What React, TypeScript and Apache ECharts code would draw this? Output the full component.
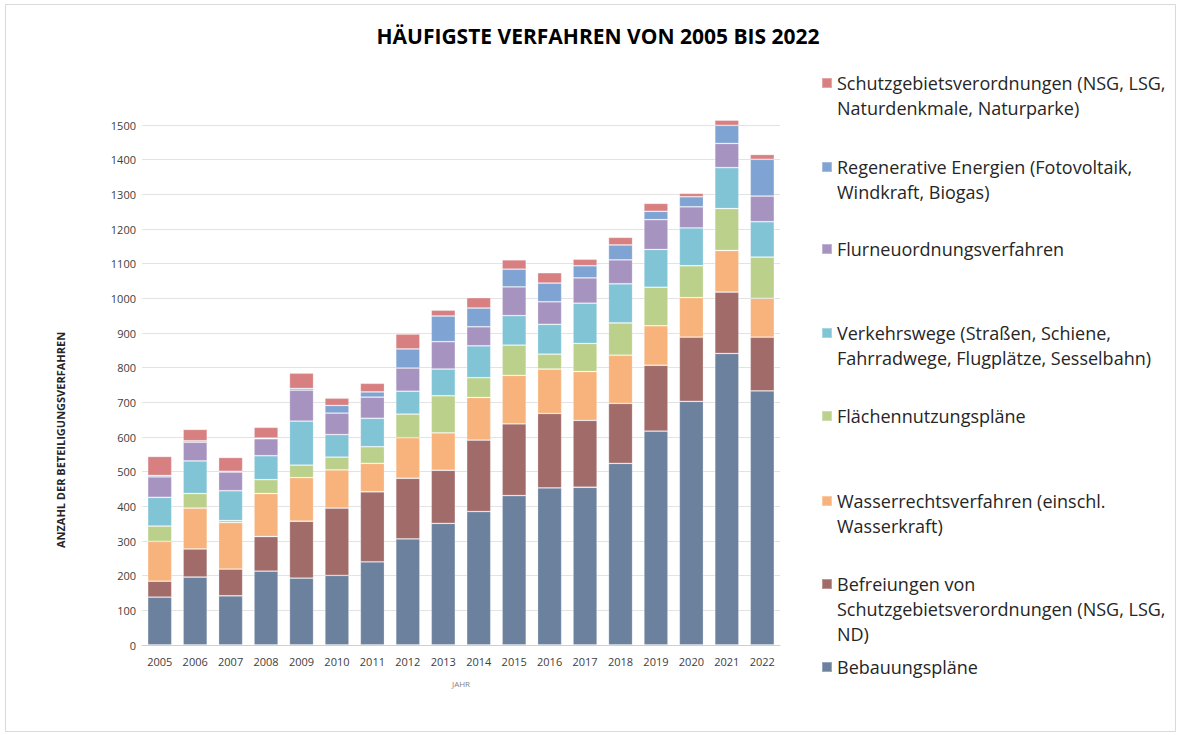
import React, { useEffect, useRef } from "react";
import * as echarts from "echarts";

const years = ["2005","2006","2007","2008","2009","2010","2011","2012","2013","2014","2015","2016","2017","2018","2019","2020","2021","2022"];

const bebauungsplaene = [138,196,142,213,193,201,240,306,351,385,431,453,455,524,617,703,841,733];
const befreiungen = [46,81,77,100,164,194,202,175,153,206,207,215,193,173,190,185,177,155];
const wasserrecht = [115,118,134,124,126,110,82,117,108,123,140,128,141,139,114,114,120,112];
const flaechennutzung = [44,42,6,40,36,37,48,68,107,57,87,43,81,93,111,92,121,119];
const verkehrswege = [83,94,86,69,127,65,82,66,77,92,85,86,116,113,109,109,118,102];
const flurneuordnung = [59,54,54,49,89,62,61,67,79,55,83,65,73,69,86,61,70,74];
const regenerativ = [4,4,2,2,5,22,15,55,74,54,51,54,35,43,24,29,52,106];
const schutzgebiete = [55,33,40,31,44,21,25,43,17,30,27,30,19,22,23,10,15,14];

const yTicks = { min: 0, max: 1500, interval: 100 };

const seriesDefs = [
  { name: "Bebauungspläne", label: "Bebauungspläne", data: bebauungsplaene, color: "#6b819e" },
  { name: "Befreiungen von Schutzgebietsverordnungen (NSG, LSG, ND)", label: "Befreiungen von\nSchutzgebietsverordnungen (NSG, LSG,\nND)", data: befreiungen, color: "#a06b69" },
  { name: "Wasserrechtsverfahren (einschl. Wasserkraft)", label: "Wasserrechtsverfahren (einschl.\nWasserkraft)", data: wasserrecht, color: "#f7b37b" },
  { name: "Flächennutzungspläne", label: "Flächennutzungspläne", data: flaechennutzung, color: "#bad08b" },
  { name: "Verkehrswege (Straßen, Schiene, Fahrradwege, Flugplätze, Sesselbahn)", label: "Verkehrswege (Straßen, Schiene,\nFahrradwege, Flugplätze, Sesselbahn)", data: verkehrswege, color: "#80c4d6" },
  { name: "Flurneuordnungsverfahren", label: "Flurneuordnungsverfahren", data: flurneuordnung, color: "#a793c0" },
  { name: "Regenerative Energien (Fotovoltaik, Windkraft, Biogas)", label: "Regenerative Energien (Fotovoltaik,\nWindkraft, Biogas)", data: regenerativ, color: "#7fa3d2" },
  { name: "Schutzgebietsverordnungen (NSG, LSG, Naturdenkmale, Naturparke)", label: "Schutzgebietsverordnungen (NSG, LSG,\nNaturdenkmale, Naturparke)", data: schutzgebiete, color: "#d88081" },
];

// icon centre y for each legend entry (same order as seriesDefs)
const legendIconY = [667, 584, 501, 416, 333, 249, 167, 83];

const FONT = "'Open Sans', 'Noto Sans', sans-serif";
const LINE_H = 25;

export default function App() {
  const ref = useRef<HTMLDivElement>(null);
  useEffect(() => {
    if (!ref.current) return;
    const chart = echarts.init(ref.current, null, { renderer: "svg" });
    const legends = seriesDefs.map((s, i) => {
      const n = s.label.split("\n").length;
      // leading blank lines so that the first text line sits level with the icon
      const text = "\n".repeat(n - 1) + s.label;
      return {
        data: [s.name],
        left: 821,
        top: legendIconY[i] - (LINE_H * (2 * n - 1)) / 2,
        padding: 0,
        orient: "vertical",
        icon: "rect",
        itemWidth: 10,
        itemHeight: 10,
        itemGap: 0,
        selectedMode: false,
        formatter: () => text,
        textStyle: {
          fontFamily: FONT,
          fontSize: 18,
          lineHeight: LINE_H,
          color: "#262626",
        },
      };
    });
    chart.setOption({
      animation: false,
      backgroundColor: "#ffffff",
      title: {
        text: "HÄUFIGSTE VERFAHREN VON 2005 BIS 2022",
        left: 593,
        top: 20,
        textAlign: "center",
        textStyle: { fontFamily: FONT, fontSize: 21, fontWeight: "bold", color: "#000000" },
      },
      legend: legends,
      grid: { left: 142, right: 400, top: 125, bottom: 90, containLabel: false },
      xAxis: {
        type: "category",
        data: years,
        name: "JAHR",
        nameLocation: "middle",
        nameGap: 34,
        nameTextStyle: { fontFamily: FONT, fontSize: 8, color: "#7f7f7f" },
        axisLine: { lineStyle: { color: "#d0d0d0", width: 1 } },
        axisTick: { show: false },
        axisLabel: { fontFamily: FONT, fontSize: 11, color: "#404040", margin: 11 },
      },
      yAxis: {
        type: "value",
        min: yTicks.min,
        max: yTicks.max,
        interval: yTicks.interval,
        axisLine: { show: false },
        axisTick: { show: false },
        axisLabel: {
          fontFamily: FONT,
          fontSize: 11,
          color: "#404040",
          margin: 6,
          formatter: (v: number) => String(v),
        },
        splitLine: { lineStyle: { color: "#e3e3e3", width: 1 } },
      },
      graphic: [
        {
          type: "rect",
          shape: { x: 5.5, y: 4.5, width: 1170, height: 727 },
          style: { fill: "none", stroke: "#d9d9d9", lineWidth: 1 },
          silent: true,
        },
        {
          type: "text",
          x: 60,
          y: 440,
          rotation: Math.PI / 2,
          style: {
            text: "ANZAHL DER BETEILIGUNGSVERFAHREN",
            fontFamily: FONT,
            fontSize: 11,
            fontWeight: "bold",
            fill: "#262626",
            align: "center",
            verticalAlign: "middle",
          },
        },
      ],
      series: seriesDefs.map((s) => ({
        name: s.name,
        type: "bar",
        stack: "total",
        data: s.data,
        barCategoryGap: "32%",
        clip: false,
        itemStyle: { color: s.color, borderColor: "rgba(255,255,255,0.3)", borderWidth: 0.8 },
        emphasis: { disabled: true },
      })),
    });
    return () => chart.dispose();
  }, []);
  return (
    <div
      ref={ref}
      style={{ position: "fixed", left: 0, top: 0, width: 1180, height: 735 }}
    />
  );
}
